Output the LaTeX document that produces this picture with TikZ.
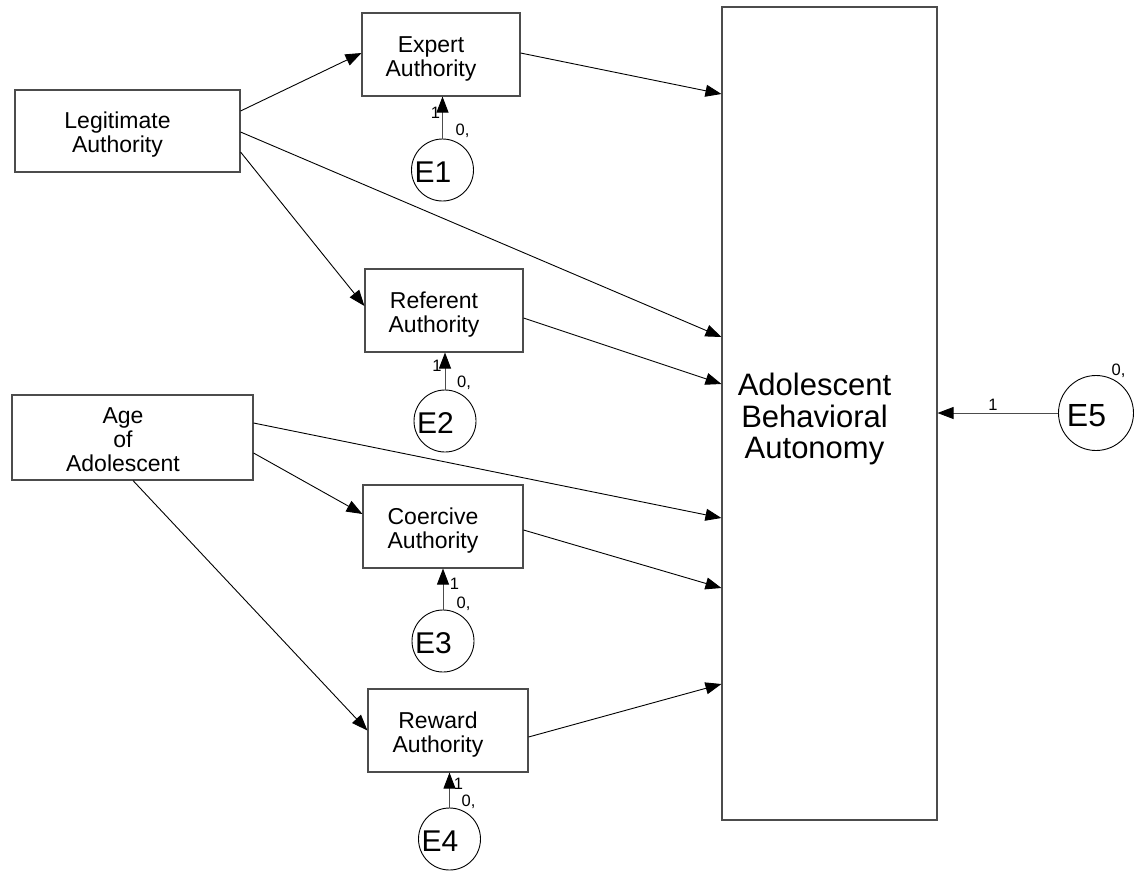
\documentclass[tikz,border=0pt]{standalone}
\usepackage{fontspec}
\setmainfont{Liberation Sans}
\usetikzlibrary{arrows.meta}
\begin{document}
\begin{tikzpicture}[x=1pt,y=-1pt,
  var/.style={draw=black!70, line width=1.1pt, inner sep=0pt},
  err/.style={circle, draw=black, line width=0.9pt, inner sep=0pt, minimum size=62pt},
  vtext/.style={font=\fontsize{23}{24}\selectfont, align=center, xshift=-10pt, yshift=-4pt},
  etext/.style={font=\fontsize{30}{30}\selectfont, xshift=-9.5pt, yshift=-2.5pt},
  coef/.style={font=\fontsize{16.5}{16.5}\selectfont, inner sep=0pt},
  regr/.style={-{Triangle[length=16pt,width=12pt,color=black]}, line width=0.9pt},
  errpath/.style={regr, draw=black!70}
]
\useasboundingbox (0,0) rectangle (1144,871);

% observed variables
\node[var, minimum width=225pt, minimum height=82pt,
      label={[vtext]center:{Legitimate\\Authority}}] (legit) at (127.5,131) {};
\node[var, minimum width=241pt, minimum height=85pt,
      label={[vtext, xshift=0.5pt, yshift=1.5pt]center:{Age\\of\\Adolescent}}] (age) at (132.5,437.5) {};
\node[var, minimum width=158pt, minimum height=83pt,
      label={[vtext]center:{Expert\\Authority}}] (expert) at (441,54.5) {};
\node[var, minimum width=158pt, minimum height=83pt,
      label={[vtext]center:{Referent\\Authority}}] (referent) at (444,310.5) {};
\node[var, minimum width=160pt, minimum height=83pt,
      label={[vtext]center:{Coercive\\Authority}}] (coercive) at (443,526.5) {};
\node[var, minimum width=160pt, minimum height=83pt,
      label={[vtext]center:{Reward\\Authority}}] (reward) at (448,730.5) {};
\node[var, minimum width=215pt, minimum height=813pt,
      label={[font=\fontsize{31}{31.5}\selectfont, align=center, xshift=-15pt, yshift=-5.5pt]center:{Adolescent\\Behavioral\\Autonomy}}] (big) at (829.5,413.5) {};

% error terms
\node[err, label={[etext]center:E1}] (e1) at (442.5,170) {};
\node[err, label={[etext]center:E2}] (e2) at (445,421) {};
\node[err, label={[etext]center:E3}] (e3) at (443,641) {};
\node[err, label={[etext]center:E4}] (e4) at (449.5,839) {};
\node[err, minimum size=75pt, label={[etext, font=\fontsize{32}{32}\selectfont]center:E5}] (e5) at (1096,413) {};

% regression paths
\draw[regr] ([yshift=20pt]legit.east) -- ([yshift=1.5pt]expert.west);
\draw[regr] ([yshift=-1pt]legit.east) -- ([yshift=76.5pt]big.west);
\draw[regr] ([yshift=-21pt]legit.east) -- ([yshift=4.5pt]referent.west);
\draw[regr] ([yshift=1.5pt]expert.east) -- ([yshift=319.5pt]big.west);
\draw[regr] ([yshift=-7.5pt]referent.east) -- ([yshift=29.5pt]big.west);
\draw[regr] ([yshift=14.5pt]age.east) -- ([yshift=-104.5pt]big.west);
\draw[regr] ([yshift=-15.5pt]age.east) -- ([yshift=12.5pt]coercive.west);
\draw[regr] ([xshift=0.5pt]age.south) -- (reward.west);
\draw[regr] ([yshift=-3.5pt]coercive.east) -- ([yshift=-174.5pt]big.west);
\draw[regr] ([yshift=-6.5pt]reward.east) -- ([yshift=-270.5pt]big.west);

% error paths
\draw[errpath] (e1) -- (e1 |- expert.south);
\draw[errpath] (e2) -- (e2 |- referent.south);
\draw[errpath] (e3) -- (e3 |- coercive.south);
\draw[errpath] (e4) -- (e4 |- reward.south);
\draw[errpath] (e5) -- (e5 -| big.east);

% fixed weights and means
\node[coef, anchor=base] (w1) at (435.5,118) {1};
\node[coef, anchor=base west] (m1) at (455.5,135) {0,};
\node[coef, anchor=base] (w2) at (437,371) {1};
\node[coef, anchor=base west] (m2) at (457,387) {0,};
\node[coef, anchor=base] (w3) at (454.5,589) {1};
\node[coef, anchor=base west] (m3) at (456.5,608) {0,};
\node[coef, anchor=base] (w4) at (458.5,789) {1};
\node[coef, anchor=base west] (m4) at (461.5,806) {0,};
\node[coef, anchor=base] (w5) at (993,410) {1};
\node[coef, anchor=base west] (m5) at (1111.5,375) {0,};
\end{tikzpicture}
\end{document}
